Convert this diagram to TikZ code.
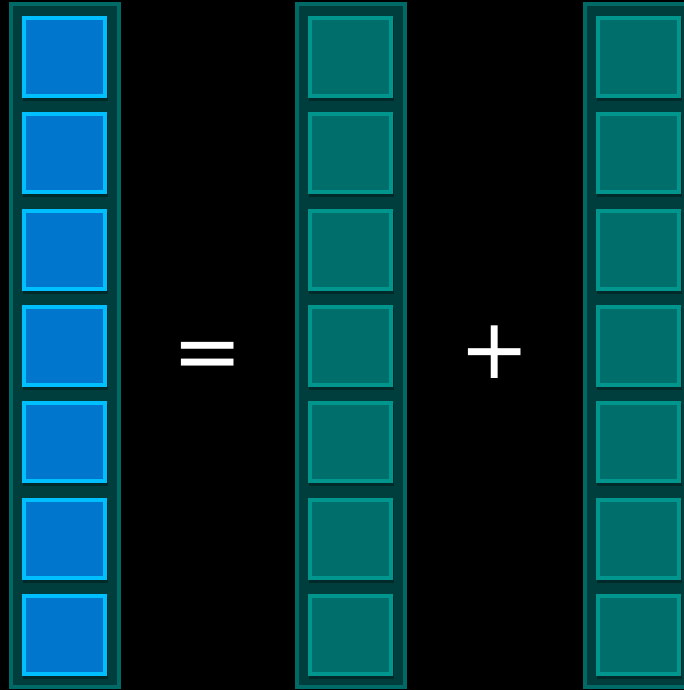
\documentclass[tikz,border=0pt]{standalone}
\usepackage{fontspec}
\setmainfont{DejaVu Sans}
\usetikzlibrary{positioning}
\definecolor{Frame}{HTML}{006B66}
\definecolor{FrameFill}{HTML}{003E3E}
\definecolor{Shade}{HTML}{002A2A}
\definecolor{Cyan}{HTML}{00BFFF}
\definecolor{Blue}{HTML}{0077CC}
\definecolor{TealEdge}{HTML}{00968E}
\definecolor{TealFill}{HTML}{006E6A}

\begin{document}
\begin{tikzpicture}[x=1pt,y=-1pt,
    colframe/.style={draw=Frame,line width=4pt,fill=FrameFill,minimum width=108pt,minimum height=683pt,inner sep=0pt},
    bluecell/.style={draw=Cyan,line width=4pt,fill=Blue,minimum width=81pt,minimum height=78pt,inner sep=0pt},
    tealcell/.style={draw=TealEdge,line width=4pt,fill=TealFill,minimum width=81pt,minimum height=78pt,inner sep=0pt},
    cellshade/.style={fill=Shade,minimum width=85pt,minimum height=82pt,inner sep=0pt},
    sign/.style={text=white,font=\fontsize{84}{84}\selectfont,inner sep=0pt}]
    \fill[black] (0,0) rectangle (684,690);
    \useasboundingbox (0,0) rectangle (684,690);
    % frames of the three vectors
    \node[colframe] (vecL) at (65,345.5) {};
    \node[colframe] (vecM) at (350.5,345.5) {};
    \node[colframe] (vecR) at (638.5,345.5) {};
    % cells
    \foreach \i in {0,...,6} {
      \pgfmathsetmacro{\yy}{57+96.33*\i}
      \node[cellshade] at (65,\yy+3) {};
      \node[cellshade] at (351,\yy+3) {};
      \node[cellshade] at (639,\yy+3) {};
      \node[bluecell] (l\i) at (64.5,\yy) {};
      \node[tealcell] (m\i) at (350.5,\yy) {};
      \node[tealcell] (r\i) at (638.5,\yy) {};
    }
    \node[sign] (eq) at (208,361) {=};
    \node[sign] (plus) at (495,352) {+};
  \end{tikzpicture}
\end{document}
